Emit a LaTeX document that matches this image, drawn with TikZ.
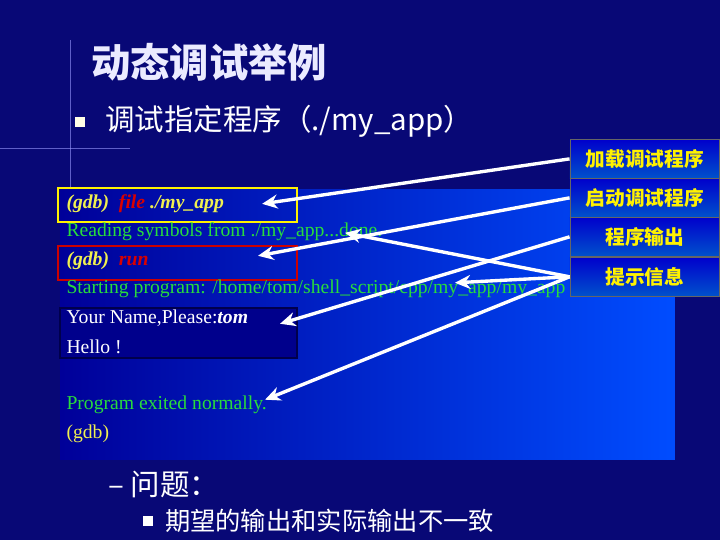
\documentclass[tikz,border=0pt]{standalone}
\usepackage{fontspec}
\setmainfont{Liberation Serif}
\newfontfamily\cjk{Noto Sans CJK SC}
\usetikzlibrary{arrows.meta}

\begin{document}
\begin{tikzpicture}[x=0.025cm,y=-0.025cm,
  tagbox/.style={draw=black!60,top color=blue!80!black,bottom color=blue!60!cyan!80!black,minimum width=150*0.025cm,minimum height=39*0.025cm,inner sep=0pt,font=\cjk\bfseries\fontsize{14}{14}\selectfont,text=yellow},
  cmdline/.style={anchor=west,inner sep=0pt,font=\fontsize{14}{16}\selectfont},
  pointer/.style={draw=white,line width=2.4pt,-{Stealth[length=11pt,width=10pt]}}]
% Define colours
\definecolor{slide}{RGB}{8,8,118}
\definecolor{okgreen}{RGB}{40,220,60}
\definecolor{gdbyellow}{RGB}{240,240,80}

% Background and crosshair
\fill[slide] (0,0) rectangle (720,540);
\draw[blue!40!white,opacity=0.6] (70,40) -- (70,190);
\draw[blue!40!white,opacity=0.6] (0,148) -- (130,148);

% Title and bullet
\node[anchor=west,text=blue!8!white,font=\cjk\bfseries\fontsize{28}{28}\selectfont] (title) at (86,62) {动态调试举例};
\fill[white!90!yellow] (75,117) rectangle (85,127);
\node[anchor=west,text=white,font=\cjk\fontsize{21}{21}\selectfont] (target) at (100,121) {调试指定程序（./my\_app）};

% Terminal panel
\shade[left color=blue!60!black,right color=blue!70!cyan] (60,190) rectangle (675,460);
\draw[yellow,line width=1.5pt] (58,188) rectangle (297,222);
\draw[red!80!black,line width=1.5pt] (58,246) rectangle (297,280);
\draw[blue!30!black,line width=1.5pt,fill=blue!55!black] (60,308) rectangle (297,358);

% Terminal lines
\node[cmdline,text=gdbyellow] (cmdfile) at (66,204) {\textit{\textbf{(gdb)\ \ \textcolor{red!85!black}{file} ./my\_app}}};
\node[cmdline,text=okgreen] (reading) at (66,232) {Reading symbols from ./my\_app...done.};
\node[cmdline,text=gdbyellow] (cmdrun) at (66,261) {\textit{\textbf{(gdb)\ \ \textcolor{red!85!black}{run}}}};
\node[cmdline,text=okgreen] (starting) at (66,289) {Starting program: /home/tom/shell\_script/cpp/my\_app/my\_app};
\node[cmdline,text=white] (askname) at (66,318) {Your Name,Please:\textit{\textbf{tom}}};
\node[cmdline,text=white] (hello) at (66,347) {Hello !};
\node[cmdline,text=okgreen] (exited) at (66,405) {Program exited normally.};
\node[cmdline,text=gdbyellow] (prompt) at (66,434) {(gdb)};

% Tags on the right
\node[tagbox] (tagload) at (645,159) {加载调试程序};
\node[tagbox] (tagstart) at (645,198) {启动调试程序};
\node[tagbox] (tagout) at (645,237) {程序输出};
\node[tagbox] (taghint) at (645,277) {提示信息};

% Pointers
\coordinate (pload) at (262,204);
\coordinate (prun) at (258,256);
\coordinate (pname) at (280,324);
\coordinate (pread) at (345,233);
\coordinate (pstart) at (455,283);
\coordinate (pexit) at (265,400);
\draw[pointer] (tagload.west) -- (pload);
\draw[pointer] (tagstart.west) -- (prun);
\draw[pointer] (tagout.west) -- (pname);
\draw[pointer] (taghint.west) -- (pread);
\draw[pointer] (taghint.west) -- (pstart);
\draw[pointer] (taghint.west) -- (pexit);

% Question
\node[anchor=west,text=white,font=\cjk\fontsize{21}{21}\selectfont] (question) at (103,485) {– 问题：};
\fill[white] (143,516) rectangle (153,526);
\node[anchor=west,text=white,font=\cjk\fontsize{18}{18}\selectfont] (answer) at (160,521) {期望的输出和实际输出不一致};
\end{tikzpicture}
\end{document}
